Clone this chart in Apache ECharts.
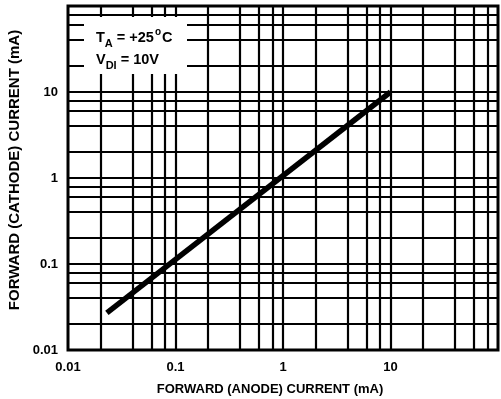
<!DOCTYPE html>
<html><head><meta charset="utf-8">
<script src="https://cdn.jsdelivr.net/npm/echarts@6/dist/echarts.min.js"></script>
<style>html,body{margin:0;padding:0;background:#fff}#c{width:501px;height:399px}</style>
</head><body><div id="c"></div>
<script>
var anodeCurrent = [0.023, 10];
var cathodeCurrent = [0.027, 10];
var xGridValues = [0.02,0.04,0.06,0.08,0.1,0.2,0.4,0.6,0.8,1,2,4,6,8,10,20,40,60,80];
var yGridValues = [0.02,0.04,0.06,0.08,0.1,0.2,0.4,0.6,0.8,1,2,4,6,8,10,20,40,60,80];
var xTickLabels = {0.01:'0.01',0.1:'0.1',1:'1',10:'10'};
var yTickLabels = {0.01:'0.01',0.1:'0.1',1:'1',10:'10'};
var xTitle = 'FORWARD (ANODE) CURRENT (mA)';
var yTitle = 'FORWARD (CATHODE) CURRENT (mA)';

var FONT = 'Liberation Sans';
var chart = echarts.init(document.getElementById('c'));
var gridMarks = xGridValues.map(function(v){return {xAxis:v};})
  .concat(yGridValues.map(function(v){return {yAxis:v};}));
function fmt(map){return function(v){
  var k = Object.keys(map).find(function(key){return Math.abs(Math.log10(+key)-Math.log10(v))<1e-6;});
  return k ? map[k] : '';
};}
chart.setOption({
  animation:false,
  grid:{left:68,right:-3,top:6,bottom:49,show:true,borderColor:'#000',borderWidth:3,backgroundColor:'transparent'},
  xAxis:{type:'log',min:0.01,max:100,logBase:10,
    axisLine:{show:false},axisTick:{show:false},splitLine:{show:false},
    axisLabel:{margin:11,color:'#000',fontFamily:FONT,fontWeight:'bold',fontSize:13,formatter:fmt(xTickLabels)}},
  yAxis:{type:'log',min:0.01,max:100,logBase:10,
    axisLine:{show:false},axisTick:{show:false},splitLine:{show:false},
    axisLabel:{margin:10,color:'#000',fontFamily:FONT,fontWeight:'bold',fontSize:13,formatter:fmt(yTickLabels)}},
  series:[
    {type:'line',data:[],silent:true,
     markLine:{silent:true,symbol:['none','none'],label:{show:false},
       lineStyle:{color:'#000',width:2.2,type:'solid'},data:gridMarks}},
    {type:'line',z:5,symbol:'none',silent:true,
     data:anodeCurrent.map(function(x,i){return [x,cathodeCurrent[i]];}),
     lineStyle:{color:'#000',width:5.5,cap:'butt'}}
  ],
  graphic:[
    {type:'rect',z:100,shape:{x:84,y:17,width:103,height:57},style:{fill:'#fff'}},
    {type:'text',z:101,left:96,top:27,style:{
      text:'{m|T}{s|A}{m| = +25}{u|o}{m|C}',
      rich:{m:{fontFamily:FONT,fontWeight:'bold',fontSize:14.5,fill:'#000',verticalAlign:'bottom'},
            s:{fontFamily:FONT,fontWeight:'bold',fontSize:11,fill:'#000',padding:[0,0,-4,0],verticalAlign:'bottom'},
            u:{fontFamily:FONT,fontWeight:'bold',fontSize:10,fill:'#000',padding:[0,1,8,1],verticalAlign:'bottom'}}}},
    {type:'text',z:101,left:96,top:52,style:{
      text:'{m|V}{s|DI}{m| = 10V}',
      rich:{m:{fontFamily:FONT,fontWeight:'bold',fontSize:14.5,fill:'#000',verticalAlign:'bottom'},
            s:{fontFamily:FONT,fontWeight:'bold',fontSize:11,fill:'#000',padding:[0,0,-4,0],verticalAlign:'bottom'}}}},
    {type:'text',z:101,x:270,y:389,style:{text:xTitle,fontFamily:FONT,fontWeight:'bold',fontSize:13,fill:'#000',align:'center',verticalAlign:'middle'}},
    {type:'text',z:101,x:15,y:170,rotation:Math.PI/2,style:{text:yTitle,fontFamily:FONT,fontWeight:'bold',fontSize:15,fill:'#000',align:'center',verticalAlign:'middle'}}
  ]
});
</script></body></html>
